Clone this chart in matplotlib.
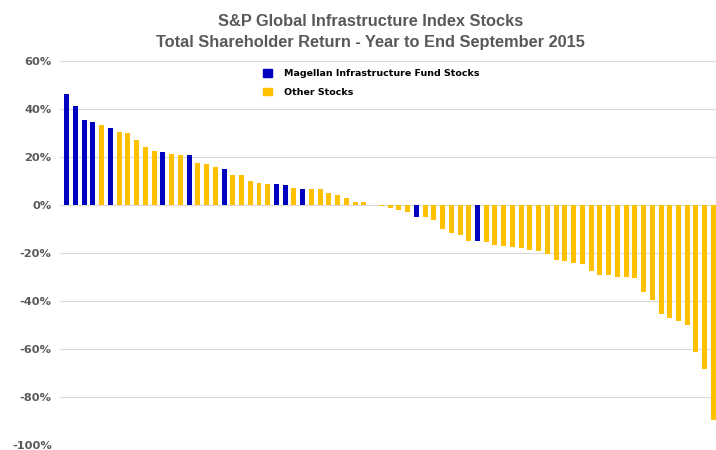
import matplotlib
matplotlib.use("Agg")
import matplotlib.pyplot as plt
from matplotlib.patches import Patch

# Total shareholder return (%) for each stock, sorted descending
returns = [46.2, 41.1, 35.5, 34.7, 33.3, 32.2, 30.4, 29.9, 27.1, 24.2,
           22.7, 22.0, 21.3, 20.9, 20.7, 17.4, 16.9, 15.8, 14.8, 12.7,
           12.7, 10.0, 9.3, 8.9, 8.9, 8.2, 7.2, 6.8, 6.8, 6.5,
           5.1, 4.0, 2.8, 1.2, 1.2, 0.2, -0.4, -1.3, -2.1, -3.1,
           -4.9, -5.2, -6.2, -10.0, -11.8, -12.5, -14.8, -15.2, -15.6, -16.5,
           -17.2, -17.6, -18.0, -18.6, -19.3, -20.3, -23.1, -23.4, -24.1, -24.5,
           -27.5, -29.0, -29.0, -30.0, -30.0, -30.4, -36.2, -39.6, -45.4, -46.9,
           -48.3, -50.1, -61.2, -68.4, -89.5]
# 1-based positions of Magellan Infrastructure Fund stocks
magellan_positions = [1, 2, 3, 4, 6, 12, 15, 19, 25, 26, 28, 41, 48]
y_ticks = [60, 40, 20, 0, -20, -40, -60, -80, -100]
y_tick_labels = ["60%", "40%", "20%", "0%", "-20%", "-40%", "-60%", "-80%", "-100%"]
legend_labels = ["Magellan Infrastructure Fund Stocks", "Other Stocks"]
title_text = "S&P Global Infrastructure Index Stocks\nTotal Shareholder Return - Year to End September 2015"

BLUE = "#0000BF"
YELLOW = "#FFC000"

fig = plt.figure(figsize=(7.16, 4.5), dpi=100)
ax = fig.add_axes([60 / 716, 5 / 450, 656 / 716, 384 / 450])

x = list(range(len(returns)))
colors = [BLUE if (i + 1) in magellan_positions else YELLOW for i in x]
ax.bar(x, returns, width=0.57, color=colors, zorder=3)

ax.set_ylim(-100, 60)
ax.set_xlim(-0.77, 74.29)
ax.set_yticks(y_ticks)
ax.set_yticklabels(y_tick_labels, fontsize=8.2, fontweight="bold", color="#595959")
ax.set_xticks([])
ax.tick_params(axis="y", length=0, pad=6)
ax.grid(axis="y", color="#D9D9D9", linewidth=0.8, zorder=0)
for s in ax.spines.values():
    s.set_visible(False)

handles = [Patch(color=BLUE), Patch(color=YELLOW)]
leg = ax.legend(handles, legend_labels, loc="upper left",
                bbox_to_anchor=(261 / 716, (450 - 67) / 450),
                bbox_transform=fig.transFigure,
                frameon=False, prop={"size": 6.8, "weight": "bold"},
                handlelength=0.95, handleheight=0.9, handletextpad=1.3,
                labelspacing=1.0, borderaxespad=0, borderpad=0.2)

fig.text(0.517, 0.968, title_text, ha="center", va="top", fontsize=11.8,
         fontweight="bold", color="#595959", linespacing=1.45,
         family="Liberation Sans")

fig.savefig("out.png", dpi=100)
